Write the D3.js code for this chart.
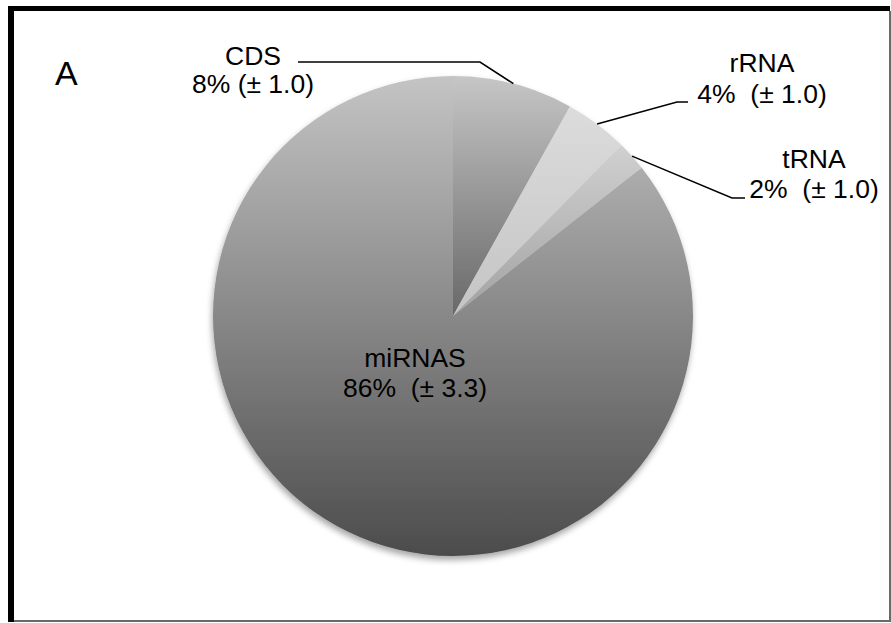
<!DOCTYPE html>
<html>
<head>
<meta charset="utf-8">
<script src="https://cdn.jsdelivr.net/npm/d3@7/dist/d3.min.js"></script>
<style>
  html, body { margin: 0; padding: 0; background: #fff; }
  svg { display: block; font-family: Arial, "Liberation Sans", sans-serif; }
  text { white-space: pre; }
</style>
</head>
<body>
<div id="chart"></div>
<script>
// Slice data (clockwise from 12 o'clock)
const categories = ["CDS", "rRNA", "tRNA", "miRNAS"];
const shares = [8.1, 4.3, 2.0, 85.6];
const pctLabels = ["8%", "4%", "2%", "86%"];
const errLabels = ["(± 1.0)", "(± 1.0)", "(± 1.0)", "(± 3.3)"];

const width = 891, height = 623;
const cx = 453, cy = 316, radius = 240;

// per-slice gradient stops (top, bottom)
const shades = [["#c6c6c6", "#686868"], ["#dcdcdc", "#c4c4c4"], ["#d0d0d0", "#a2a2a2"], ["#c4c4c4", "#4c4c4c"]];

const svg = d3.select("#chart").append("svg")
    .attr("width", width)
    .attr("height", height);

const defs = svg.append("defs");
shades.forEach((s, i) => {
  const g = defs.append("linearGradient")
      .attr("id", "grad" + i)
      .attr("x1", 0).attr("y1", 0).attr("x2", 0).attr("y2", 1);
  g.append("stop").attr("offset", "0%").attr("stop-color", s[0]);
  g.append("stop").attr("offset", "100%").attr("stop-color", s[1]);
});
const shadow = defs.append("filter").attr("id", "shadow")
    .attr("x", "-10%").attr("y", "-10%").attr("width", "120%").attr("height", "120%");
shadow.append("feDropShadow")
    .attr("dx", -1).attr("dy", 4).attr("stdDeviation", 3)
    .attr("flood-color", "#000").attr("flood-opacity", 0.35);

// frame: heavy top/left, thin grey right/bottom
svg.append("rect").attr("x", 8).attr("y", 6).attr("width", 882).attr("height", 5).attr("fill", "#000");
svg.append("rect").attr("x", 8).attr("y", 6).attr("width", 6).attr("height", 616).attr("fill", "#000");
svg.append("rect").attr("x", 889).attr("y", 11).attr("width", 2).attr("height", 611).attr("fill", "#6a6a6a");
svg.append("rect").attr("x", 14).attr("y", 620).attr("width", 877).attr("height", 2).attr("fill", "#6a6a6a");

const pie = d3.pie().sort(null).value(d => d)(shares);
const arc = d3.arc().innerRadius(0).outerRadius(radius);

const g = svg.append("g").attr("transform", `translate(${cx},${cy})`);
g.append("g").attr("filter", "url(#shadow)")
  .selectAll("path")
  .data(pie)
  .join("path")
  .attr("d", arc)
  .attr("fill", (d, i) => `url(#grad${i})`);

// leader lines: from arc edge at mid-angle to a bend and a short run
const leaders = [
  { bend: [480, 62], end: [298, 62] },
  { bend: [677, 102], end: [688, 102] },
  { bend: [732, 198], end: [745, 198] }
];
leaders.forEach((l, i) => {
  const a = (pie[i].startAngle + pie[i].endAngle) / 2;
  const p0 = [cx + radius * Math.sin(a), cy - radius * Math.cos(a)];
  svg.append("path")
    .attr("d", d3.line()([p0, l.bend, l.end]))
    .attr("fill", "none")
    .attr("stroke", "#000")
    .attr("stroke-width", 1.5);
});

// labels
const labelPos = [[253, 65], [762, 72], [814, 168], [415, 367]];
const lineGap = [28, 31, 30, 30];
const gap = [" ", "  ", "  ", "  "];
categories.forEach((c, i) => {
  const t = svg.append("text")
      .attr("x", labelPos[i][0]).attr("y", labelPos[i][1])
      .attr("text-anchor", "middle")
      .attr("font-size", 26.5)
      .attr("fill", "#000");
  t.append("tspan").attr("x", labelPos[i][0]).text(c);
  t.append("tspan").attr("x", labelPos[i][0]).attr("dy", lineGap[i])
    .text(pctLabels[i] + gap[i] + errLabels[i]);
});

svg.append("text")
  .attr("x", 55).attr("y", 85)
  .attr("font-size", 34)
  .attr("fill", "#000")
  .text("A");
</script>
</body>
</html>
